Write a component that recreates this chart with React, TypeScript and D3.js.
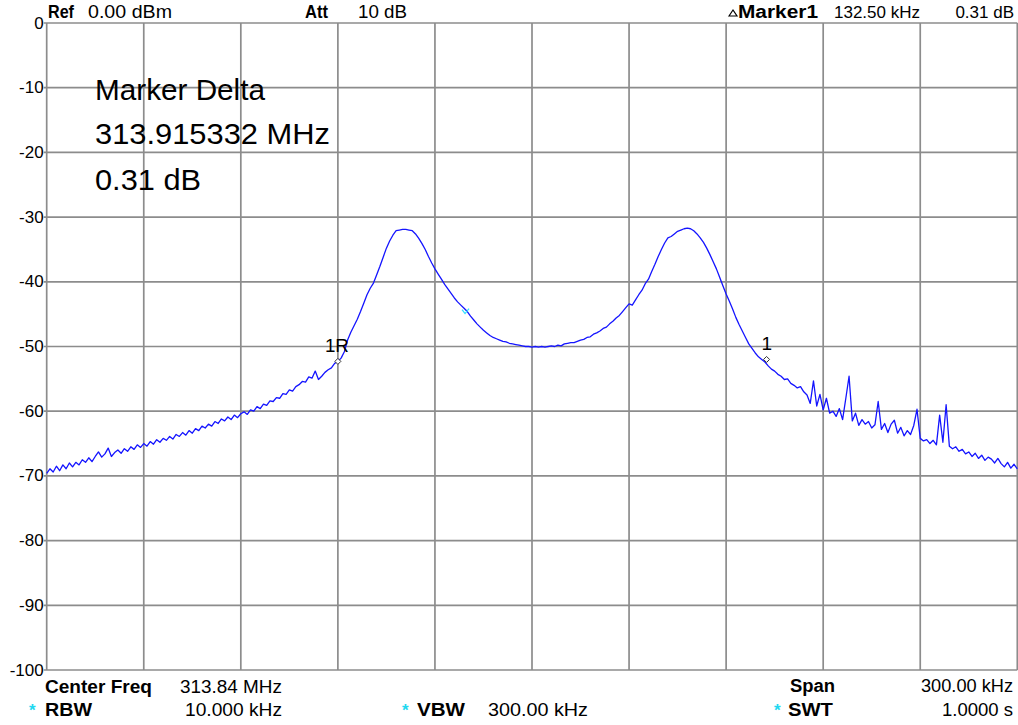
import React from 'react';
import * as d3 from 'd3';

// ---------------- data ----------------
const SPAN_KHZ = 300;
const CENTER_MHZ = 313.84;

// trace level (dBm), 301 sweep points over the 300 kHz span
const TRACE_DB: number[] = [
  -69.6, -68.9, -69.4, -68.5, -69.2, -68.3, -68.9, -68.0, -68.6, -67.9,
  -68.3, -67.5, -67.9, -67.2, -67.8, -67.0, -66.3, -67.1, -66.6, -65.7,
  -67.0, -66.4, -66.0, -66.5, -65.8, -66.2, -65.5, -65.9, -65.2, -65.6,
  -65.0, -65.4, -64.7, -65.1, -64.4, -64.8, -64.2, -64.5, -63.9, -64.3,
  -63.6, -63.9, -63.3, -63.7, -63.0, -63.4, -62.7, -63.0, -62.3, -62.6,
  -62.0, -62.3, -61.6, -61.9, -61.2, -61.5, -60.9, -61.3, -60.6, -61.0,
  -60.4, -60.1, -60.5, -59.8, -60.0, -59.3, -59.6, -58.9, -59.1, -58.4,
  -58.5, -57.9, -58.0, -57.3, -57.4, -56.7, -56.9, -56.2, -55.9, -55.4,
  -55.5, -54.7, -54.9, -53.8, -55.1, -54.6, -54.0, -53.6, -53.3, -52.6,
  -52.3, -51.8, -50.8, -49.0, -47.8, -46.8, -45.8, -44.6, -43.3, -42.0,
  -41.0, -40.2, -38.9, -37.6, -36.2, -34.8, -33.7, -32.8, -32.1, -32.0,
  -31.9, -31.9, -32.0, -32.1, -32.6, -33.3, -34.1, -35.0, -36.1, -37.1,
  -38.0, -38.8, -39.6, -40.4, -41.1, -41.8, -42.5, -43.1, -43.6, -44.1,
  -44.6, -45.3, -45.9, -46.5, -47.0, -47.5, -47.9, -48.3, -48.6, -48.8,
  -49.0, -49.2, -49.3, -49.5, -49.6, -49.7, -49.8, -49.9, -50.0, -50.0,
  -50.1, -50.0, -50.1, -50.0, -50.1, -50.0, -49.9, -50.0, -49.8, -49.9,
  -49.6, -49.5, -49.4, -49.4, -49.2, -49.0, -48.9, -48.6, -48.5, -48.1,
  -47.9, -47.6, -47.2, -47.0, -46.5, -46.1, -45.6, -45.2, -44.6, -44.0,
  -43.4, -43.6, -42.8, -42.0, -41.3, -40.3, -39.6, -38.4, -37.3, -36.1,
  -35.0, -34.0, -33.2, -33.0, -32.6, -32.2, -32.0, -31.8, -31.7, -31.8,
  -32.1, -32.6, -33.2, -33.9, -34.8, -35.8, -36.9, -38.0, -39.3, -40.6,
  -41.9, -43.0, -44.2, -45.5, -46.6, -47.6, -48.6, -49.6, -50.3, -51.0,
  -51.6, -52.0, -52.4, -53.0, -53.5, -53.8, -54.3, -54.6, -55.1, -55.0,
  -55.7, -56.0, -56.4, -56.2, -57.0, -57.5, -58.8, -55.3, -59.2, -57.4,
  -59.8, -58.0, -60.3, -60.0, -60.8, -59.6, -61.3, -58.0, -54.6, -61.5,
  -60.3, -62.2, -61.3, -62.0, -61.6, -62.6, -62.1, -58.5, -62.8, -61.9,
  -63.3, -62.0, -61.4, -63.4, -62.5, -63.8, -63.0, -63.6, -62.2, -59.7,
  -64.2, -64.6, -64.4, -65.0, -64.5, -65.2, -60.6, -64.8, -59.0, -65.4,
  -65.8, -65.5, -66.2, -65.9, -66.6, -66.3, -67.0, -66.5, -67.3, -66.8,
  -67.6, -67.1, -67.4, -68.0, -67.3, -68.1, -68.6, -67.9, -68.8, -68.2, -68.9,
];

const GRID_KHZ = [0, 30, 60, 90, 120, 150, 180, 210, 240, 270, 300];
const LEVEL_TICKS = [0, -10, -20, -30, -40, -50, -60, -70, -80, -90, -100];
const LEVEL_LABELS = ['0', '-10', '-20', '-30', '-40', '-50', '-60', '-70', '-80', '-90', '-100'];

const MARKER_LABELS = ['1R', '1'];
const MARKER_KHZ = [90, 222.5];
const MARKER_DB = [-52.3, -52.0];

const CURSOR_KHZ = 129.3;
const CURSOR_DB = -44.6;

const DELTA_LINES = ['Marker Delta', '313.915332 MHz', '0.31 dB'];

// ---------------- layout ----------------
const W = 1018;
const H = 725;
const LEFT = 46.7;
const RIGHT = 1017.3;
const TOP = 23;
const BOTTOM = 670;

const FONT = '"Liberation Sans", Arial, Helvetica, sans-serif';
const GRID = '#8c8c8c';

type TP = {
  x: number;
  y: number;
  w?: number;
  bold?: boolean;
  size?: number;
  fill?: string;
  anchor?: 'start' | 'end' | 'middle';
  children: React.ReactNode;
};

const T = ({ x, y, w, bold, size = 18, fill = '#000', anchor = 'start', children }: TP) => (
  <text
    x={x}
    y={y}
    fontFamily={FONT}
    fontSize={size}
    fontWeight={bold ? 700 : 400}
    fill={fill}
    textAnchor={anchor}
    {...(w ? { textLength: w, lengthAdjust: 'spacingAndGlyphs' } : {})}
  >
    {children}
  </text>
);

export default function App() {
  const x = d3.scaleLinear().domain([0, SPAN_KHZ]).range([LEFT, RIGHT]);
  const y = d3.scaleLinear().domain([-100, 0]).range([BOTTOM, TOP]);

  const step = SPAN_KHZ / (TRACE_DB.length - 1);
  const pts: [number, number][] = TRACE_DB.map((v, i) => [i * step, v]);
  const line = d3
    .line<[number, number]>()
    .x((d) => x(d[0]))
    .y((d) => y(d[1]));

  const cx = x(CURSOR_KHZ);
  const cy = y(CURSOR_DB);

  return (
    <svg
      width={W}
      height={H}
      style={{ position: 'absolute', left: 0, top: 0, background: '#fff' }}
    >
      <rect x={0} y={0} width={W} height={H} fill="#fff" />

      {/* grid */}
      <g stroke={GRID} strokeWidth={1.7} fill="none">
        {GRID_KHZ.map((k) => (
          <line key={'v' + k} x1={x(k)} x2={x(k)} y1={TOP} y2={BOTTOM} />
        ))}
        {LEVEL_TICKS.map((v) => (
          <line key={'h' + v} x1={LEFT - 3} x2={RIGHT} y1={y(v)} y2={y(v)} />
        ))}
      </g>

      {/* level labels */}
      {LEVEL_TICKS.map((v, i) => (
        <T key={'l' + v} x={LEFT - 3} y={y(v) + 5.5} size={17} anchor="end">
          {LEVEL_LABELS[i]}
        </T>
      ))}

      {/* trace */}
      <path d={line(pts) || ''} fill="none" stroke="#1414ff" strokeWidth={1.3} strokeLinejoin="round" />

      {/* cyan cursor tick */}
      <path
        d={`M${cx - 3},${cy - 2} L${cx},${cy + 2} L${cx + 4},${cy - 3}`}
        fill="none"
        stroke="#33e0ff"
        strokeWidth={1.3}
      />

      {/* markers */}
      {MARKER_KHZ.map((k, i) => {
        const mx = x(k);
        const my = y(MARKER_DB[i]);
        return (
          <g key={'m' + i}>
            <path
              d={`M${mx},${my - 3} L${mx + 3},${my} L${mx},${my + 3} L${mx - 3},${my} Z`}
              fill="#fff"
              stroke="#333"
              strokeWidth={1}
            />
            <T
              x={i === 0 ? mx - 13 : mx - 5}
              y={my - 9}
              size={19}
              w={i === 0 ? 24 : undefined}
            >
              {MARKER_LABELS[i]}
            </T>
          </g>
        );
      })}

      {/* marker delta box */}
      <T x={95} y={100} size={30} w={170}>{DELTA_LINES[0]}</T>
      <T x={95} y={143.5} size={30} w={235}>{DELTA_LINES[1]}</T>
      <T x={95} y={190} size={30} w={106}>{DELTA_LINES[2]}</T>

      {/* header */}
      <T x={48} y={18} bold w={26}>Ref</T>
      <T x={88} y={18} w={84}>0.00 dBm</T>
      <T x={305} y={18} bold w={23}>Att</T>
      <T x={358} y={18} w={49}>10 dB</T>
      <path d="M729,16 L733,10 L737,16 Z" fill="none" stroke="#000" strokeWidth={1.2} />
      <T x={738} y={18} bold w={80}>Marker1</T>
      <T x={834} y={18} size={17}>132.50 kHz</T>
      <T x={1014} y={18} size={17} anchor="end">0.31 dB</T>

      {/* footer */}
      <T x={45} y={693} bold w={107}>Center Freq</T>
      <T x={180} y={693} w={102}>{`${CENTER_MHZ.toFixed(2)} MHz`}</T>
      <T x={790} y={692} bold w={45}>Span</T>
      <T x={921} y={692} w={92}>{`${SPAN_KHZ.toFixed(2)} kHz`}</T>

      <T x={29} y={716} bold size={17} fill="#22d8f0">*</T>
      <T x={45} y={716} bold w={47}>RBW</T>
      <T x={185} y={716} w={97}>10.000 kHz</T>
      <T x={402} y={716} bold size={17} fill="#22d8f0">*</T>
      <T x={417} y={716} bold w={48}>VBW</T>
      <T x={488} y={716} w={100}>300.00 kHz</T>
      <T x={774} y={716} bold size={17} fill="#22d8f0">*</T>
      <T x={788} y={716} bold w={45}>SWT</T>
      <T x={942} y={716} w={71}>1.0000 s</T>
    </svg>
  );
}
